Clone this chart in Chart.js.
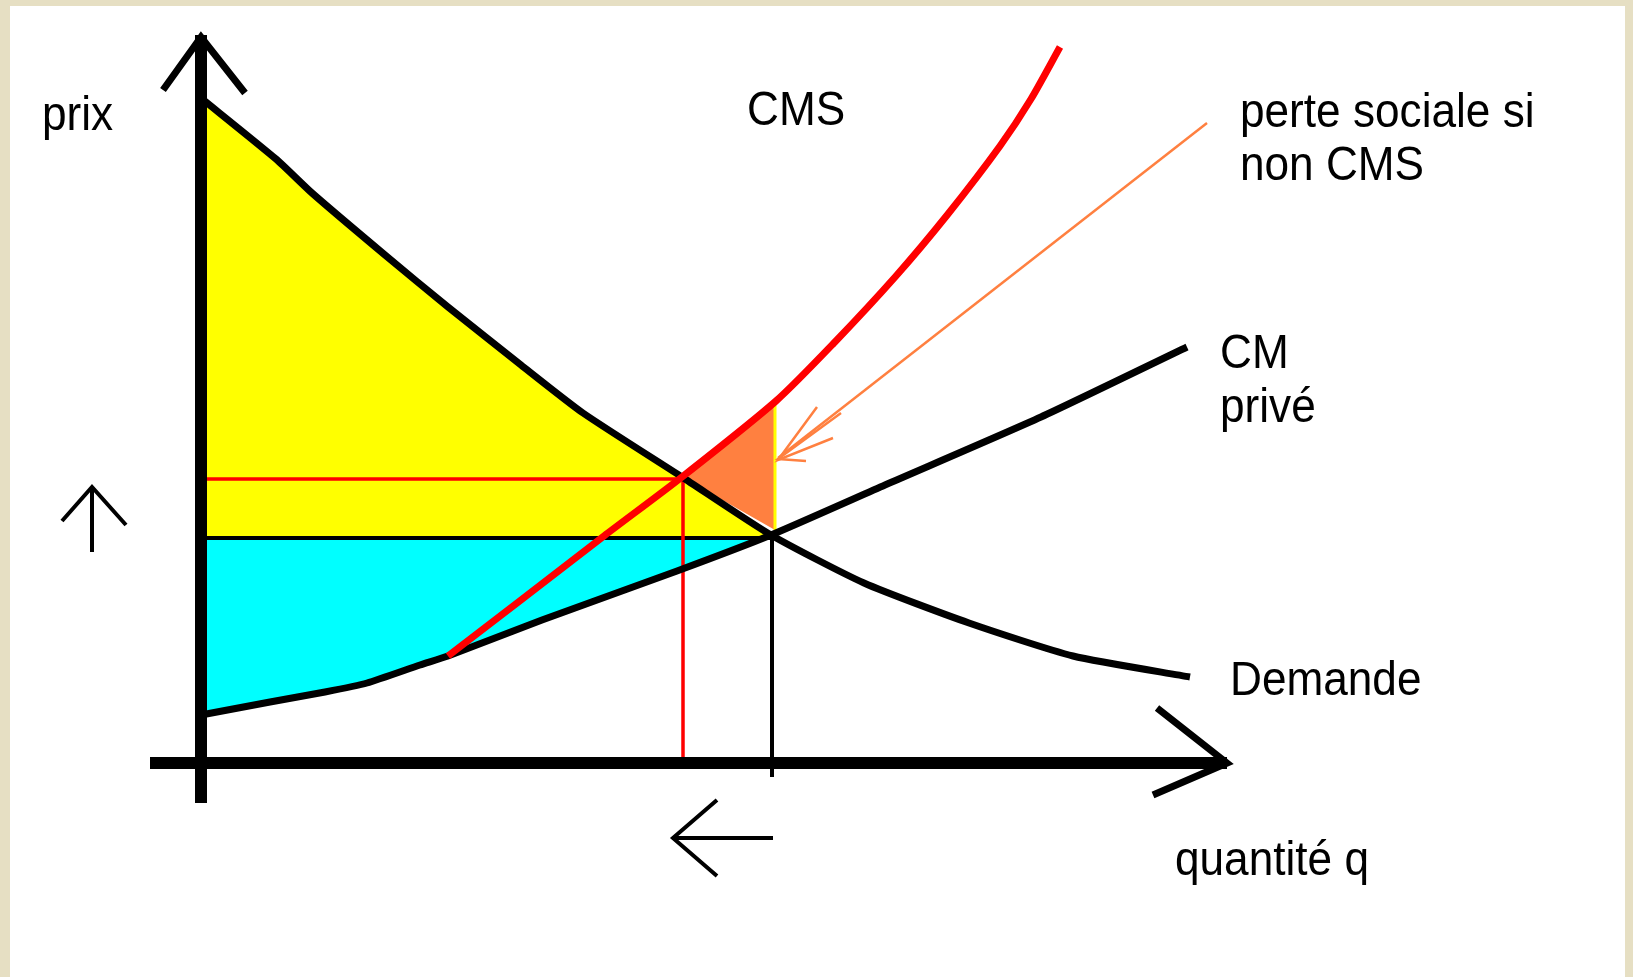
<!DOCTYPE html>
<html>
<head>
<meta charset="utf-8">
<script src="https://cdn.jsdelivr.net/npm/chart.js@4.4.1/dist/chart.umd.min.js"></script>
<style>
  html, body { margin: 0; padding: 0; background: #e6dfc3; }
  canvas { display: block; }
</style>
</head>
<body>
<canvas id="c" width="1633" height="977"></canvas>
<script>
// ---- data (quantity q, price p) ----
const qDemand = [0, 7.5, 11.1, 18.4, 24.7, 32.0, 38.2, 48.1, 57.0, 66.3, 76.8, 87.2, 98.9];
const pDemand = [66.5, 60.4, 57.0, 50.8, 45.6, 39.8, 35.0, 28.6, 22.8, 18.0, 14.0, 10.7, 8.6];

const qCM = [0, 6.9, 12.4, 16.6, 21.9, 24.7, 34.1, 47.6, 57.0, 68.4, 84.0, 98.6];
const pCM = [4.8, 6.1, 7.1, 8.0, 9.8, 10.7, 14.3, 19.2, 22.8, 27.8, 34.6, 41.6];

const qCMS = [24.7, 32.0, 40.3, 48.1, 57.5, 63.2, 69.5, 74.7, 79.9, 83.0, 85.9];
const pCMS = [10.7, 16.3, 22.7, 28.6, 36.2, 41.9, 48.7, 54.9, 61.7, 66.4, 71.6];

const qPrivate = 57.1, pPrivate = 22.5;   // equilibrium with private cost
const qSocial = 48.2, pSocial = 28.4;     // equilibrium with social cost
const qLossEdge = 57.4, pLossTop = 36.0, pLossBottom = 23.3;

const labels = ["prix", "CMS", "perte sociale si", "non CMS", "CM", "privé", "Demande", "quantité q"];

// ---- helpers ----
const pts = (qs, ps) => qs.map((q, i) => ({x: q, y: ps[i]}));
function crossAt(qs, ps, p) {
  for (let i = 0; i < qs.length - 1; i++) {
    const a = ps[i], b = ps[i + 1];
    if ((a - p) * (b - p) <= 0 && a !== b) {
      return qs[i] + (p - a) / (b - a) * (qs[i + 1] - qs[i]);
    }
  }
  return null;
}
const demandPts = pts(qDemand, pDemand);
const cmPts = pts(qCM, pCM);
const cmsPts = pts(qCMS, pCMS);

const qDemandAtP = crossAt(qDemand, pDemand, pPrivate);
const qCMAtP = crossAt(qCM, pCM, pPrivate);

const yellowShape = [{x: 0, y: pPrivate}]
  .concat(demandPts.filter(d => d.y >= pPrivate))
  .concat([{x: qDemandAtP, y: pPrivate}]);
const cyanShape = [{x: 0, y: pPrivate}, {x: qCMAtP, y: pPrivate}]
  .concat(cmPts.filter(d => d.x <= qCMAtP).reverse());
const orangeShape = [{x: 48.1, y: 28.6}, {x: qLossEdge, y: pLossTop}, {x: qLossEdge, y: pLossBottom}];

function line(data, color, width, order, extra) {
  return Object.assign({
    data: data, borderColor: color, borderWidth: width, pointRadius: 0,
    fill: false, tension: 0, order: order, borderCapStyle: 'butt', borderJoinStyle: 'miter'
  }, extra || {});
}
function shape(data, color, order) {
  return {data: data, borderWidth: 0, borderColor: color, backgroundColor: color,
    pointRadius: 0, fill: 'shape', tension: 0, order: order};
}

const datasets = [
  shape(yellowShape, '#ffff00', 20),
  shape(cyanShape, '#00ffff', 20),
  shape(orangeShape, '#ff8040', 19),
  line([{x: qLossEdge, y: pLossTop}, {x: qLossEdge, y: pLossBottom}], '#ffff00', 3, 18),
  // guide lines
  line([{x: 0, y: pSocial}, {x: qSocial, y: pSocial}, {x: qSocial, y: 0}], '#ff0000', 3.5, 15),
  line([{x: 0, y: pPrivate}, {x: qPrivate, y: pPrivate}], '#000000', 4, 15),
  line([{x: qPrivate, y: pPrivate}, {x: qPrivate, y: -1.4}], '#000000', 4, 15),
  // pointer arrow (orange)
  line([{x: 100.6, y: 64.0}, {x: 57.7, y: 30.5}], '#ff8040', 2.5, 14),
  line([{x: 61.6, y: 35.6}, {x: 57.7, y: 30.3}, {x: 63.2, y: 32.5}], '#ff8040', 2.5, 14),
  line([{x: 64.0, y: 35.0}, {x: 57.7, y: 30.4}, {x: 60.5, y: 30.2}], '#ff8040', 2.5, 14),
  // axes
  line([{x: 0, y: 72.8}, {x: 0, y: -4.0}], '#000000', 12, 10),
  line([{x: -5.1, y: 0}, {x: 102.6, y: 0}], '#000000', 12, 10),
  line([{x: -3.8, y: 67.3}, {x: 0, y: 72.6}, {x: 4.4, y: 67.0}], '#000000', 7, 10),
  line([{x: 95.6, y: 5.5}, {x: 102.6, y: 0}, {x: 95.2, y: -3.2}], '#000000', 7, 10),
  // small direction arrows
  line([{x: -10.9, y: 21.1}, {x: -10.9, y: 27.6}], '#000000', 4, 10),
  line([{x: -13.9, y: 24.2}, {x: -10.9, y: 27.6}, {x: -7.5, y: 23.8}], '#000000', 4, 10),
  line([{x: 57.2, y: -7.5}, {x: 47.2, y: -7.5}], '#000000', 4, 10),
  line([{x: 51.6, y: -3.7}, {x: 47.2, y: -7.5}, {x: 51.6, y: -11.3}], '#000000', 4, 10),
  // curves
  line(demandPts, '#000000', 7, 5, {tension: 0.2}),
  line(cmPts, '#000000', 7, 5, {tension: 0.2}),
  line(cmsPts, '#ff0000', 7, 1, {tension: 0.25})
];

const bgPlugin = {
  id: 'bg',
  beforeDraw(chart) {
    const ctx = chart.ctx;
    ctx.save();
    ctx.fillStyle = '#e6dfc3';
    ctx.fillRect(0, 0, chart.width, chart.height);
    ctx.fillStyle = '#ffffff';
    ctx.fillRect(10, 6, 1615, 971);
    ctx.restore();
  }
};

const labelPos = [
  [42, 130], [747, 125], [1240, 127], [1240, 180], [1220, 368], [1220, 422], [1230, 695], [1175, 875]
];
const textPlugin = {
  id: 'texts',
  afterDraw(chart) {
    const ctx = chart.ctx;
    ctx.save();
    ctx.fillStyle = '#000000';
    ctx.font = '48px "Liberation Sans", Arial, sans-serif';
    ctx.textBaseline = 'alphabetic';
    labels.forEach((t, i) => {
      const [x, y] = labelPos[i];
      ctx.save();
      ctx.translate(x, y);
      ctx.scale(0.92, 1);
      ctx.fillText(t, 0, 0);
      ctx.restore();
    });
    ctx.restore();
  }
};

new Chart(document.getElementById('c'), {
  type: 'line',
  data: {datasets: datasets},
  options: {
    responsive: false,
    animation: false,
    devicePixelRatio: 1,
    layout: {padding: 0},
    plugins: {legend: {display: false}, tooltip: {enabled: false}},
    scales: {
      x: {type: 'linear', min: -20.1, max: 143.2, display: false},
      y: {type: 'linear', min: -21.4, max: 76.3, display: false}
    }
  },
  plugins: [bgPlugin, textPlugin]
});
</script>
</body>
</html>
